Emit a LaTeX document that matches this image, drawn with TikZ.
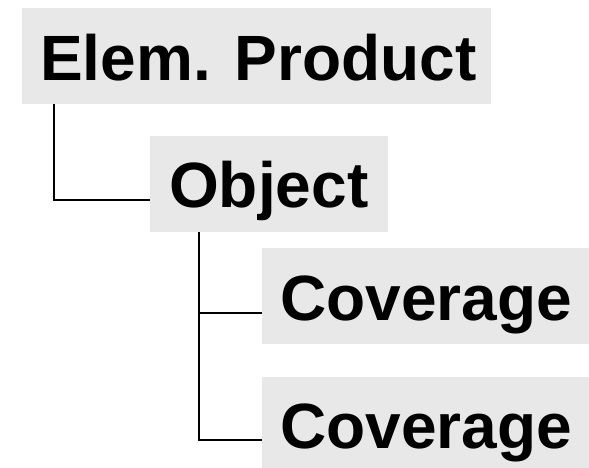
\documentclass[tikz,border=0pt]{standalone}
\usepackage{fontspec}
\setmainfont{Liberation Sans}
\definecolor{boxgray}{HTML}{E8E8E8}
\begin{document}
\begin{tikzpicture}[x=1pt,y=-1pt,
  box/.style={fill=boxgray,draw=none,inner sep=0pt,anchor=north west},
  lbl/.style={inner sep=0pt,anchor=base west,font=\fontsize{64}{77}\selectfont\bfseries},
  conn/.style={draw=black,line width=1.6pt}]
\useasboundingbox (0,0) rectangle (589,468);
\node[box,minimum width=469pt,minimum height=96pt] (elem) at (22,8) {};
\node[box,minimum width=238pt,minimum height=96pt] (obj) at (150,136) {};
\node[box,minimum width=327pt,minimum height=96pt] (cov1) at (262,248) {};
\node[box,minimum width=327pt,minimum height=91pt] (cov2) at (262,377) {};
\node[lbl] (elemt) at (40,81) {Elem. Product};
\node[lbl] (objt) at (169,207) {Object};
\node[lbl] (cov1t) at (280,320) {Coverage};
\node[lbl] (cov2t) at (280,448) {Coverage};
\coordinate (c1) at (54,200);
\coordinate (c2) at (199,313);
\coordinate (c3) at (199,440);
\draw[conn] (elem.south west -| c1) -- (c1) -- (c1 -| obj.west);
\draw[conn] (obj.south west -| c2) -- (c3) -- (c3 -| cov2.west);
\draw[conn] (c2) -- (c2 -| cov1.west);
\end{tikzpicture}
\end{document}
